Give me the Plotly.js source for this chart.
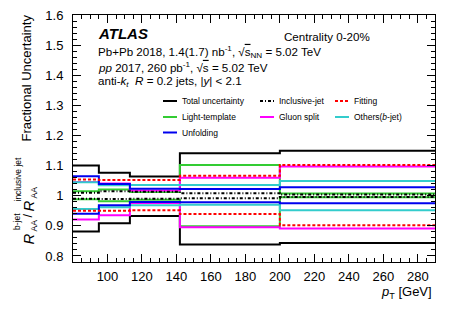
<!DOCTYPE html>
<html>
<head>
<meta charset="utf-8">
<script src="https://cdn.plot.ly/plotly-3.0.1.min.js"></script>
<style>html,body{margin:0;padding:0;background:#fff;}#chart{width:457px;height:311px;}</style>
</head>
<body>
<div id="chart"></div>
<script>
// ---- data ----
const binEdges = [80, 95, 113, 142, 200, 290];
const totalUp  = [1.100, 1.076, 1.064, 1.141, 1.149];
const totalDn  = [0.881, 0.909, 0.933, 0.838, 0.843];
const inclUp   = [1.010, 1.015, 1.013, 1.008, 1.004];
const inclDn   = [0.990, 0.989, 0.990, 0.992, 0.996];
const fitUp    = [1.054, 1.052, 1.052, 1.066, 1.102];
const fitDn    = [0.950, 0.950, 0.952, 0.939, 0.902];
const lightUp  = [1.015, 1.021, 1.012, 1.102, 1.007];
const lightDn  = [0.988, 0.982, 0.987, 0.899, 0.995];
const gluonUp  = [1.046, 1.041, 1.017, 1.060, 1.097];
const gluonDn  = [0.921, 0.935, 0.976, 0.895, 0.891];
const othersUp = [1.045, 1.035, 1.036, 1.036, 1.049];
const othersDn = [0.956, 0.962, 0.968, 0.970, 0.952];
const unfUp    = [1.065, 1.039, 1.023, 1.022, 1.028];
const unfDn    = [0.940, 0.968, 0.979, 0.978, 0.975];
const xTickVals = [100, 120, 140, 160, 180, 200, 220, 240, 260, 280];
const xTickText = ['100','120','140','160','180','200','220','240','260','280'];
const yTickVals = [0.8, 0.9, 1.0, 1.1, 1.2, 1.3, 1.4, 1.5, 1.6];
const yTickText = ['0.8','0.9','1','1.1','1.2','1.3','1.4','1.5','1.6'];
const legendNames = ['Total uncertainty','Inclusive-jet','Fitting','Light-template','Gluon split','Others(<i>b</i>-jet)','Unfolding'];

// ---- styles ----
const FONT = 'Liberation Sans, Arial, Helvetica, sans-serif';
const sources = [
  {name: legendNames[0], up: totalUp,  dn: totalDn,  color: '#000000', dash: 'solid', w: 2},
  {name: legendNames[3], up: lightUp,  dn: lightDn,  color: '#33cc33', dash: 'solid', w: 2},
  {name: legendNames[4], up: gluonUp,  dn: gluonDn,  color: '#ff00ff', dash: 'solid', w: 2},
  {name: legendNames[5], up: othersUp, dn: othersDn, color: '#33cccc', dash: 'solid', w: 2},
  {name: legendNames[6], up: unfUp,    dn: unfDn,    color: '#0000ee', dash: 'solid', w: 2},
  {name: legendNames[1], up: inclUp,   dn: inclDn,   color: '#000000', dash: '3px,2px,1px,2px', w: 2},
  {name: legendNames[2], up: fitUp,    dn: fitDn,    color: '#ff0000', dash: '3px,2px', w: 2}
];

const traces = [];
sources.forEach(s => {
  [s.up, s.dn].forEach(v => {
    traces.push({
      type: 'scatter', mode: 'lines', x: binEdges, y: v.concat([v[v.length - 1]]),
      line: {shape: 'hv', color: s.color, width: s.w, dash: s.dash},
      name: s.name, showlegend: false, hoverinfo: 'skip'
    });
  });
});

// pixel -> paper helpers
const PL = 73, PR = 435, PT = 15, PB = 262;
const px = x => (x - PL) / (PR - PL);
const py = y => (PB - y) / (PB - PT);

const ann = [];
function txt(x, y, text, size, extra) {
  ann.push(Object.assign({
    xref: 'paper', yref: 'paper', x: px(x), y: py(y), text: text, showarrow: false,
    xanchor: 'left', yanchor: 'middle', font: {family: FONT, size: size, color: '#000'}
  }, extra || {}));
}

// header texts
txt(96, 34, '<b><i>ATLAS</i></b>', 15);
txt(282, 36, 'Centrality 0-20%', 11.6);
txt(96, 51.5, 'Pb+Pb 2018, 1.4(1.7) nb<sup>-1</sup>, √<span style="text-decoration:overline">s</span><sub>NN</sub> = 5.02 TeV', 11.6);
txt(96, 66.5, '<i>pp</i> 2017, 260 pb<sup>-1</sup>, √<span style="text-decoration:overline">s</span> = 5.02 TeV', 11.6);
txt(96, 81.5, 'anti-<i>k</i><sub><i>t</i></sub>  <i>R</i> = 0.2 jets, |<i>y</i>| &lt; 2.1', 11.6);

// legend (manual ROOT-style)
const shapes = [];
const legendPos = [
  {col: 0, row: 0, src: 0}, {col: 1, row: 0, src: 5}, {col: 2, row: 0, src: 6},
  {col: 0, row: 1, src: 1}, {col: 1, row: 1, src: 2}, {col: 2, row: 1, src: 3},
  {col: 0, row: 2, src: 4}
];
const colX = [163, 260, 335];
const rowY = [101, 117, 132.5];
legendPos.forEach(p => {
  const s = sources[p.src];
  const x0 = colX[p.col], yy = rowY[p.row];
  shapes.push({type: 'line', xref: 'paper', yref: 'paper', x0: px(x0), x1: px(x0 + 14), y0: py(yy), y1: py(yy),
    line: {color: s.color, width: 2, dash: s.dash}});
  txt(x0 + 17, yy, s.name, 8.5);
});

// y-axis title pieces (rotated, ROOT-style stacked sup/sub)
function rot(x, y, text, size) {
  ann.push({xref: 'paper', yref: 'paper', x: px(x), y: py(y), text: text, showarrow: false,
    textangle: -90, xanchor: 'center', yanchor: 'middle', font: {family: FONT, size: size, color: '#000'}});
}
rot(27.5, 239, '<i>R</i>', 15);
rot(17, 222, 'b-jet', 8.5);
rot(33.5, 226, 'AA', 8.5);
rot(27, 215.5, '/', 13);
rot(27.5, 206, '<i>R</i>', 15);
rot(17, 179.5, 'inclusive jet', 8.5);
rot(33.5, 193, 'AA', 8.5);
rot(26, 78.5, 'Fractional Uncertainty', 13);

// x-axis title
ann.push({xref: 'paper', yref: 'paper', x: px(434), y: py(292), text: '<i>p</i><sub>T</sub> [GeV]', showarrow: false,
  xanchor: 'right', yanchor: 'middle', font: {family: FONT, size: 13, color: '#000'}});

const axisCommon = {
  showline: true, linecolor: '#000', linewidth: 1, mirror: 'allticks',
  ticks: 'inside', ticklen: 8, tickwidth: 1, tickcolor: '#000',
  showgrid: false, zeroline: false, tickfont: {family: FONT, size: 13, color: '#000'}
};

const layout = {
  width: 457, height: 311,
  margin: {l: PL, r: 457 - PR, t: PT, b: 311 - PB},
  paper_bgcolor: '#fff', plot_bgcolor: '#fff',
  showlegend: false,
  xaxis: Object.assign({}, axisCommon, {
    range: [binEdges[0], binEdges[binEdges.length - 1]], tickmode: 'array', tickvals: xTickVals, ticktext: xTickText,
    minor: {dtick: 5, tick0: 80, ticks: 'inside', ticklen: 4, tickcolor: '#000', showgrid: false},
    ticklabelstandoff: 2
  }),
  yaxis: Object.assign({}, axisCommon, {
    range: [0.78, 1.6], tickmode: 'array', tickvals: yTickVals, ticktext: yTickText,
    minor: {dtick: 0.02, tick0: 0.8, ticks: 'inside', ticklen: 4, tickcolor: '#000', showgrid: false},
    ticklabelstandoff: 6
  }),
  annotations: ann,
  shapes: shapes,
  font: {family: FONT}
};

Plotly.newPlot('chart', traces, layout, {staticPlot: true, displayModeBar: false});
</script>
</body>
</html>
